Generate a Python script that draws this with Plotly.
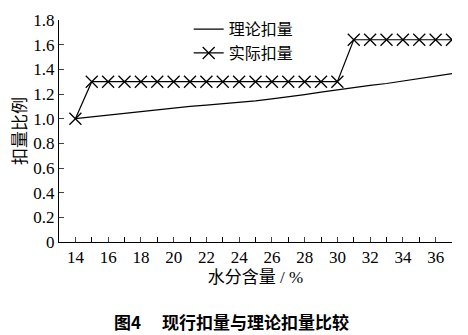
import plotly.graph_objects as go

moisture = list(range(14, 38))
theory = [1.00, 1.015, 1.03, 1.045, 1.06, 1.07, 1.085, 1.10, 1.11, 1.12, 1.13, 1.145,
          1.16, 1.175, 1.195, 1.215, 1.235, 1.25, 1.27, 1.285, 1.305, 1.32, 1.34, 1.365]
actual = [1.00] + [1.30] * 16 + [1.64] * 7

y_ticks = [0, 0.2, 0.4, 0.6, 0.8, 1.0, 1.2, 1.4, 1.6, 1.8]
y_labels = ["0", "0.2", "0.4", "0.6", "0.8", "1.0", "1.2", "1.4", "1.6", "1.8"]
x_ticks = [14, 16, 18, 20, 22, 24, 26, 28, 30, 32, 34, 36]

SERIF = "Times New Roman, Liberation Serif, DejaVu Serif, serif"
CJK = "Times New Roman, Liberation Serif, Noto Sans CJK SC, serif"

fig = go.Figure()
fig.add_trace(go.Scatter(x=moisture, y=theory, mode="lines", name="理论扣量",
                         line=dict(color="black", width=1.2)))
fig.add_trace(go.Scatter(x=moisture, y=actual, mode="lines+markers", name="实际扣量",
                         line=dict(color="black", width=1.2),
                         marker=dict(symbol="x-thin-open", size=12, color="black",
                                     line=dict(color="black", width=1.3))))

fig.update_layout(
    width=468, height=335,
    margin=dict(l=59, r=16, t=13, b=93),
    paper_bgcolor="white", plot_bgcolor="white",
    font=dict(family=CJK, size=16, color="black"),
    showlegend=True,
    legend=dict(x=0.33, y=1.035, xanchor="left", yanchor="top",
                bgcolor="rgba(0,0,0,0)", font=dict(size=16, family=CJK, color="black"),
                tracegroupgap=0, itemwidth=30),
    xaxis=dict(range=[13, 37], tickvals=x_ticks, ticks="inside", ticklen=5,
               showline=True, linecolor="black", linewidth=1, showgrid=False,
               zeroline=False, tickfont=dict(size=17, family=SERIF, color="black"),
               minor=dict(dtick=1, tick0=13, ticks="inside", ticklen=5, tickcolor="black"),
               title=dict(text="水分含量 / %", font=dict(size=17, family=CJK, color="black"),
                          standoff=4)),
    yaxis=dict(range=[0, 1.8], tickvals=y_ticks, ticktext=y_labels, ticks="inside",
               ticklen=5, showline=True, linecolor="black", linewidth=1,
               showgrid=False, zeroline=False, tickfont=dict(size=17, family=SERIF, color="black"),
               title=dict(text="扣量比例", font=dict(size=17, family=CJK, color="black"),
                          standoff=2)),
)

fig.add_annotation(text="<b>图4　 现行扣量与理论扣量比较</b>", xref="paper", yref="paper",
                   x=0.44, y=-0.36, xanchor="center", yanchor="middle", showarrow=False,
                   font=dict(family="Noto Sans CJK SC", size=17, color="black"))

fig.write_html("out.html")
